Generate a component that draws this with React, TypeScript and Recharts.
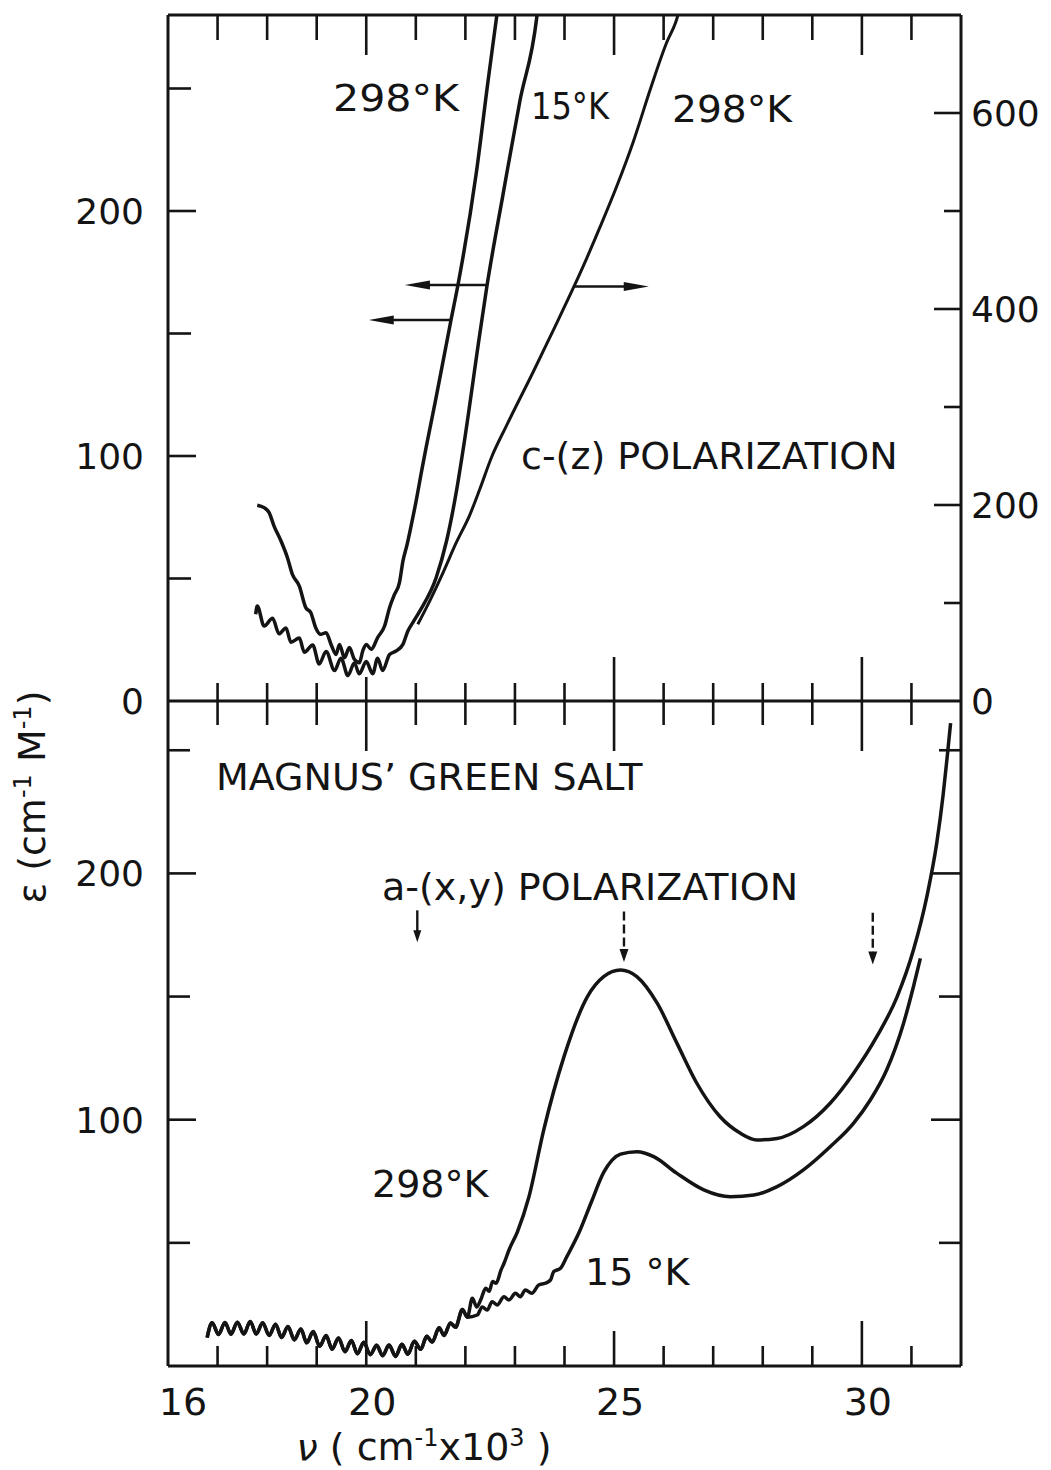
import React from 'react';
import { LineChart, Line, XAxis, YAxis, ReferenceLine } from 'recharts';

const FONT = '"DejaVu Sans", "Liberation Sans", Arial, sans-serif';
const INK = '#141414';

type Pt = [number, number];

// ---- axes: wavenumber (cm^-1 x 10^3) ----
const nuDomain: [number, number] = [16, 32];
const nuTicks = [17, 18, 19, 20, 21, 22, 23, 24, 25, 26, 27, 28, 29, 30, 31];
const nuBottomTicks = [16, 17, 18, 19, 20, 21, 22, 23, 24, 25, 26, 27, 28, 29, 30, 31];
const nuLabels = [16, 20, 25, 30];

// ---- top panel (c-(z) polarization) ----
const topEpsDomain: [number, number] = [0, 280];
const topEpsTicks = [0, 50, 100, 150, 200, 250];
const topEpsLabels = [0, 100, 200];
const topRightDomain: [number, number] = [0, 700];
const topRightTicks = [0, 100, 200, 300, 400, 500, 600];
const topRightLabels = [0, 200, 400, 600];

// ---- bottom panel (a-(x,y) polarization) ----
const botEpsDomain: [number, number] = [0, 270];
const botEpsTicks = [0, 50, 100, 150, 200, 250];
const botEpsLabels = [100, 200];
const botRightTicks = [50, 100, 150, 200, 250];

// c-(z), 298 K, left scale
const cz298: Pt[] = [
  [17.8, 79.9], [17.94, 78.9], [18.04, 76.9], [18.14, 71.4], [18.28, 65.3], [18.41, 58.5],
  [18.51, 51.7], [18.65, 46.9], [18.78, 38.1], [18.88, 36.1], [18.98, 29.9], [19.08, 27.2],
  [19.19, 27.9], [19.29, 23.1], [19.39, 19.0], [19.46, 23.1], [19.56, 17.7], [19.66, 21.8],
  [19.76, 17.0], [19.86, 15.6], [19.93, 20.5], [20.0, 23.1], [20.1, 21.1], [20.23, 25.9],
  [20.37, 30.6], [20.47, 38.1], [20.57, 43.5], [20.67, 48.3], [20.74, 57.1], [20.82, 63.5],
  [20.9, 71.0], [21.01, 82.0], [21.11, 93.1], [21.21, 103.7], [21.4, 122.9], [21.71, 155.5],
  [21.85, 169.8], [22.22, 215.5], [22.46, 253.5], [22.63, 279.2], [22.7, 290],
];

// c-(z), 15 K, left scale
const cz15: Pt[] = [
  [17.77, 35.4], [17.8, 38.8], [17.94, 30.6], [18.11, 33.8], [18.24, 27.4], [18.38, 29.8],
  [18.48, 24.0], [18.65, 25.7], [18.75, 19.9], [18.92, 22.9], [19.05, 15.1], [19.19, 20.2],
  [19.36, 12.4], [19.49, 17.5], [19.63, 10.4], [19.76, 15.5], [19.86, 11.1], [20.0, 16.1],
  [20.13, 11.1], [20.23, 17.5], [20.33, 12.4], [20.47, 19.0], [20.6, 20.4], [20.74, 23.1],
  [20.84, 28.6], [20.94, 32.0], [21.08, 36.7], [21.41, 50.3], [21.62, 65.3], [21.82, 85.7],
  [21.95, 102], [22.29, 149.7], [22.43, 168.7], [22.76, 206.8], [23.1, 244.9], [23.44, 279],
  [23.5, 290],
];

// c-(z), 298 K, right scale
const cz298Right: Pt[] = [
  [21.04, 78.3], [21.28, 102], [21.55, 131], [21.82, 162], [22.09, 190], [22.29, 216],
  [22.53, 249], [22.83, 281], [23.37, 336], [23.78, 379], [24.18, 421.7], [24.45, 452],
  [24.72, 484], [25.06, 526], [25.39, 571], [25.73, 624], [26.07, 673], [26.24, 692],
  [26.32, 705],
];

// a-(x,y): common low-energy part of both temperatures
const axyShared: Pt[] = [
  [16.79, 11.5], [16.89, 17.6], [17.02, 12.8], [17.15, 17.7], [17.27, 12.9], [17.4, 17.8],
  [17.53, 13.0], [17.66, 18.1], [17.78, 13.0], [17.91, 17.6], [18.04, 12.4], [18.17, 17.0],
  [18.29, 11.6], [18.42, 16.0], [18.55, 10.6], [18.68, 15.0], [18.8, 9.4], [18.93, 14.0],
  [19.06, 8.0], [19.19, 12.4], [19.31, 6.8], [19.44, 11.4], [19.57, 5.8], [19.7, 10.4],
  [19.82, 5.0], [19.95, 9.6], [20.08, 4.6], [20.21, 8.4], [20.33, 4.2], [20.46, 8.5],
  [20.59, 3.9], [20.72, 8.8], [20.84, 4.8], [20.97, 10.0], [21.1, 6.8], [21.22, 12.1],
  [21.33, 9.7], [21.47, 15.5], [21.57, 12.4], [21.7, 17.5], [21.8, 15.7], [21.94, 22.9],
  [22.04, 19.8],
];

// a-(x,y), 298 K
const axy298Tail: Pt[] = [
  [22.14, 27.5], [22.23, 24.0], [22.31, 26.9], [22.41, 31.6], [22.48, 30.3], [22.55, 34.3],
  [22.62, 33.6], [22.72, 39.0], [22.78, 41.7], [22.88, 47.1], [23.05, 54.5], [23.28, 68.5],
  [23.58, 95.8], [23.99, 125.6], [24.46, 149.9], [24.79, 158.1], [25.13, 160.8], [25.46, 158.1],
  [25.87, 147.3], [26.27, 131.0], [26.67, 114.8], [27.14, 101.2], [27.55, 94.5], [27.88, 91.8],
  [28.29, 92.4], [28.82, 97.2], [29.36, 106.7], [29.83, 118.8], [30.3, 133.7], [30.71, 149.9],
  [31.04, 168.9], [31.31, 190.5], [31.51, 212.2], [31.64, 232], [31.72, 247], [31.79, 261],
];

// a-(x,y), 15 K
const axy15Tail: Pt[] = [
  [22.24, 20.7], [22.34, 24.0], [22.44, 22.7], [22.54, 26.1], [22.64, 24.8], [22.78, 28.1],
  [22.88, 26.8], [23.01, 29.5], [23.11, 28.1], [23.21, 30.9], [23.34, 29.5], [23.48, 32.9],
  [23.61, 33.6], [23.72, 35.0], [23.78, 38.3], [23.92, 39.7], [24.05, 44.5], [24.3, 54.5],
  [24.54, 66.5], [24.79, 78.6], [24.96, 83.6], [25.13, 86.0], [25.46, 87.0], [25.8, 85.0],
  [26.27, 78.2], [26.81, 71.5], [27.35, 68.7], [27.82, 69.4], [28.29, 72.8], [28.82, 79.6],
  [29.36, 89.0], [29.83, 98.5], [30.17, 108.0], [30.5, 120.2], [30.84, 139.1], [31.04, 154.0],
  [31.18, 165.5],
];

// annotation arrows (data coordinates: [nu, eps])
const arrowsTopLeft: { from: Pt; to: Pt }[] = [
  { from: [22.42, 169.8], to: [20.78, 169.8] },
  { from: [21.71, 155.5], to: [20.05, 155.5] },
];
const arrowsTopRight: { from: Pt; to: Pt }[] = [{ from: [24.2, 423], to: [25.7, 423] }];
const arrowsBottomSolid: { from: Pt; to: Pt }[] = [{ from: [21.03, 185], to: [21.03, 172] }];
const arrowsBottomDashed: { from: Pt; to: Pt }[] = [
  { from: [25.2, 184.5], to: [25.2, 164] },
  { from: [30.22, 184], to: [30.22, 163] },
];

const rows = (pts: Pt[]) => pts.map(([v, e]) => ({ v, e }));
const axy298 = axyShared.concat(axy298Tail);
const axy15 = axyShared.concat(axy15Tail);

const axisStyle = { stroke: INK, strokeWidth: 3 };
const TW = 2.6;
const CW = 3.5;

function TopNuTick(p: any) {
  const { x, y, payload } = p;
  const v = payload.value;
  const len = v % 5 === 0 ? 40 : 25;
  return <line x1={x} y1={y} x2={x} y2={y + len} stroke={INK} strokeWidth={TW} />;
}

function MidNuTick(p: any) {
  const { x, y, payload } = p;
  const v = payload.value;
  const major = v === 25 || v === 30;
  const twenty = v === 20;
  const up = major ? 44 : twenty ? 24 : 18;
  const down = major || twenty ? 50 : 24;
  return <line x1={x} y1={y - up} x2={x} y2={y + down} stroke={INK} strokeWidth={TW} />;
}

function BottomNuTick(p: any) {
  const { x, y, payload } = p;
  const v = payload.value;
  const len = v === 16 ? 0 : v === 20 || v === 30 ? 45 : v === 25 ? 35 : 20;
  return (
    <g>
      {len > 0 && <line x1={x} y1={y} x2={x} y2={y - len} stroke={INK} strokeWidth={TW} />}
      {nuLabels.includes(v) && (
        <text x={x + (v === 16 ? 15 : 6)} y={y + 49} textAnchor="middle" fontSize={38} fontFamily={FONT} fill={INK}>
          {v}
        </text>
      )}
    </g>
  );
}

function TopLeftTick(p: any) {
  const { x, y, payload } = p;
  const v = payload.value;
  const len = v === 0 ? 0 : v % 100 === 0 ? 28 : 23;
  return (
    <g>
      {len > 0 && <line x1={x} y1={y} x2={x + len} y2={y} stroke={INK} strokeWidth={TW} />}
      {topEpsLabels.includes(v) && (
        <text x={x - 24} y={y} dy="0.36em" textAnchor="end" fontSize={36} fontFamily={FONT} fill={INK}>
          {v}
        </text>
      )}
    </g>
  );
}

function TopRightTick(p: any) {
  const { x, y, payload } = p;
  const v = payload.value;
  const len = v === 0 ? 0 : v % 200 === 0 ? 27 : 17;
  return (
    <g>
      {len > 0 && <line x1={x} y1={y} x2={x - len} y2={y} stroke={INK} strokeWidth={TW} />}
      {topRightLabels.includes(v) && (
        <text x={x + 10} y={y} dy="0.36em" textAnchor="start" fontSize={36} fontFamily={FONT} fill={INK}>
          {v}
        </text>
      )}
    </g>
  );
}

function BotLeftTick(p: any) {
  const { x, y, payload } = p;
  const v = payload.value;
  const len = v === 0 ? 0 : v % 100 === 0 ? 28 : 22;
  return (
    <g>
      {len > 0 && <line x1={x} y1={y} x2={x + len} y2={y} stroke={INK} strokeWidth={TW} />}
      {botEpsLabels.includes(v) && (
        <text x={x - 24} y={y} dy="0.36em" textAnchor="end" fontSize={36} fontFamily={FONT} fill={INK}>
          {v}
        </text>
      )}
    </g>
  );
}

function BotRightTick(p: any) {
  const { x, y, payload } = p;
  const v = payload.value;
  const len = v % 100 === 0 ? 30 : 22;
  return <line x1={x} y1={y} x2={x - len} y2={y} stroke={INK} strokeWidth={TW} />;
}

function arrowShape(headLen: number, headHalf: number, dashed: boolean) {
  return (p: any) => {
    const { x1, y1, x2, y2 } = p;
    const dx = x2 - x1;
    const dy = y2 - y1;
    const L = Math.hypot(dx, dy) || 1;
    const ux = dx / L;
    const uy = dy / L;
    const bx = x2 - ux * headLen;
    const by = y2 - uy * headLen;
    const px = -uy * headHalf;
    const py = ux * headHalf;
    return (
      <g>
        <line
          x1={x1}
          y1={y1}
          x2={bx + ux * 2}
          y2={by + uy * 2}
          stroke={INK}
          strokeWidth={2.4}
          strokeDasharray={dashed ? '9 4' : undefined}
        />
        <polygon points={`${x2},${y2} ${bx + px},${by + py} ${bx - px},${by - py}`} fill={INK} />
      </g>
    );
  };
}

const lineCommon = {
  type: 'monotone' as const,
  dataKey: 'e',
  stroke: INK,
  dot: false,
  activeDot: false,
  isAnimationActive: false,
};

const textStyle = { fontFamily: FONT, fill: INK };

const axisCommon = {
  type: 'number' as const,
  allowDataOverflow: true,
  interval: 0 as const,
  tickSize: 0,
  tickMargin: 0,
  tickLine: false,
  axisLine: axisStyle,
};

export default function App() {
  return (
    <div style={{ position: 'absolute', left: 0, top: 0, width: 1051, height: 1470, background: '#fff' }}>
      <div style={{ position: 'absolute', left: 0, top: 0 }}>
        <LineChart width={1051} height={760} margin={{ top: 14, right: 89, bottom: 58, left: 167 }}>
          <XAxis
            {...axisCommon}
            xAxisId="top"
            orientation="top"
            dataKey="v"
            domain={nuDomain}
            ticks={nuTicks}
            height={1}
            tick={(p: any) => <TopNuTick {...p} />}
          />
          <XAxis
            {...axisCommon}
            xAxisId="mid"
            orientation="bottom"
            dataKey="v"
            domain={nuDomain}
            ticks={nuTicks}
            height={1}
            tick={(p: any) => <MidNuTick {...p} />}
          />
          <YAxis
            {...axisCommon}
            yAxisId="left"
            orientation="left"
            domain={topEpsDomain}
            ticks={topEpsTicks}
            width={1}
            tick={(p: any) => <TopLeftTick {...p} />}
          />
          <YAxis
            {...axisCommon}
            yAxisId="right"
            orientation="right"
            domain={topRightDomain}
            ticks={topRightTicks}
            width={1}
            tick={(p: any) => <TopRightTick {...p} />}
          />
          <Line {...lineCommon} data={rows(cz298)} xAxisId="mid" yAxisId="left" strokeWidth={CW} />
          <Line {...lineCommon} data={rows(cz15)} xAxisId="mid" yAxisId="left" strokeWidth={CW} />
          <Line {...lineCommon} data={rows(cz298Right)} xAxisId="mid" yAxisId="right" strokeWidth={3} />
          {arrowsTopLeft.map((a, i) => (
            <ReferenceLine
              key={'tl' + i}
              xAxisId="mid"
              yAxisId="left"
              segment={[{ x: a.from[0], y: a.from[1] }, { x: a.to[0], y: a.to[1] }]}
              shape={arrowShape(25, 4.5, false)}
            />
          ))}
          {arrowsTopRight.map((a, i) => (
            <ReferenceLine
              key={'tr' + i}
              xAxisId="mid"
              yAxisId="right"
              segment={[{ x: a.from[0], y: a.from[1] }, { x: a.to[0], y: a.to[1] }]}
              shape={arrowShape(25, 4.5, false)}
            />
          ))}
          <text x={333} y={111} fontSize={38} textLength={126} lengthAdjust="spacingAndGlyphs" {...textStyle}>
            298°K
          </text>
          <text x={531} y={119} fontSize={38} textLength={78} lengthAdjust="spacingAndGlyphs" {...textStyle}>
            15°K
          </text>
          <text x={672} y={122} fontSize={38} textLength={120} lengthAdjust="spacingAndGlyphs" {...textStyle}>
            298°K
          </text>
          <text x={521} y={469} fontSize={38} {...textStyle}>
            c-(z) POLARIZATION
          </text>
        </LineChart>
      </div>
      <div style={{ position: 'absolute', left: 0, top: 640 }}>
        <LineChart width={1051} height={830} margin={{ top: 61, right: 89, bottom: 103, left: 167 }}>
          <XAxis
            {...axisCommon}
            xAxisId="bot"
            orientation="bottom"
            dataKey="v"
            domain={nuDomain}
            ticks={nuBottomTicks}
            height={1}
            tick={(p: any) => <BottomNuTick {...p} />}
          />
          <YAxis
            {...axisCommon}
            yAxisId="left"
            orientation="left"
            domain={botEpsDomain}
            ticks={botEpsTicks}
            width={1}
            tick={(p: any) => <BotLeftTick {...p} />}
          />
          <YAxis
            {...axisCommon}
            yAxisId="right"
            orientation="right"
            domain={botEpsDomain}
            ticks={botRightTicks}
            width={1}
            tick={(p: any) => <BotRightTick {...p} />}
          />
          <Line {...lineCommon} data={rows(axy298)} xAxisId="bot" yAxisId="left" strokeWidth={CW} />
          <Line {...lineCommon} data={rows(axy15)} xAxisId="bot" yAxisId="left" strokeWidth={CW} />
          {arrowsBottomSolid.map((a, i) => (
            <ReferenceLine
              key={'bs' + i}
              xAxisId="bot"
              yAxisId="left"
              segment={[{ x: a.from[0], y: a.from[1] }, { x: a.to[0], y: a.to[1] }]}
              shape={arrowShape(12, 4, false)}
            />
          ))}
          {arrowsBottomDashed.map((a, i) => (
            <ReferenceLine
              key={'bd' + i}
              xAxisId="bot"
              yAxisId="left"
              segment={[{ x: a.from[0], y: a.from[1] }, { x: a.to[0], y: a.to[1] }]}
              shape={arrowShape(13, 4.5, true)}
            />
          ))}
          <text x={216} y={150} fontSize={38} {...textStyle}>
            MAGNUS’ GREEN SALT
          </text>
          <text x={382} y={260} fontSize={38} {...textStyle}>
            a-(x,y) POLARIZATION
          </text>
          <text x={372} y={557} fontSize={38} {...textStyle}>
            298°K
          </text>
          <text x={585} y={645} fontSize={38} {...textStyle}>
            15 °K
          </text>
          <text x={424} y={820} fontSize={38} textAnchor="middle" {...textStyle}>
            <tspan fontStyle="italic">ν</tspan> ( cm
            <tspan dy={-14} fontSize={24}>-1</tspan>
            <tspan dy={14}>x10</tspan>
            <tspan dy={-14} fontSize={24}>3</tspan>
            <tspan dy={14}> )</tspan>
          </text>
          <text
            x={45}
            y={157}
            fontSize={38}
            textAnchor="middle"
            transform="rotate(-90 45 157)"
            {...textStyle}
          >
            ε (cm
            <tspan dy={-14} fontSize={24}>-1</tspan>
            <tspan dy={14}> M</tspan>
            <tspan dy={-14} fontSize={24}>-1</tspan>
            <tspan dy={14}>)</tspan>
          </text>
        </LineChart>
      </div>
    </div>
  );
}
